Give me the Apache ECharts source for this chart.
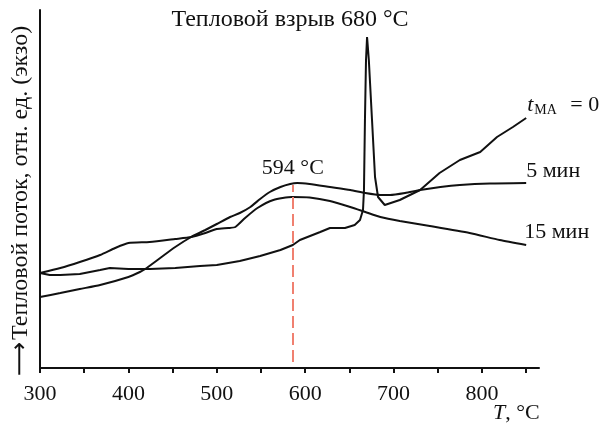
<!DOCTYPE html>
<html><head><meta charset="utf-8">
<script src="https://cdn.jsdelivr.net/npm/echarts@6/dist/echarts.min.js"></script>
<style>html,body{margin:0;padding:0;background:#fff}#c{width:608px;height:427px}</style>
</head><body><div id="c"></div>
<script>
// Temperature (°C) and heat flow (relative units)
const t0T = [300,311,323,345,368,379,400,424,453,481,500,526,549,572,586,594,617,628,645,656,662,665.4,666.5,667.6,668.8,670,672,675.6,679,682.4,690,707,730,752,775,798,817,835,850];
const t0Y = [95,93,93,94,98,100,99,99,100,102,103,107,112,118,123,128,136,140,140,143,148,158,178,248,308,331,308,248,191,171,163,168,178,195,208,216,231,241,250];
const t5T = [300,323,345,368,400,413,419,436,453,471,487,500,515,526,538,549,560,572,583,591,605,628,651,668,685,696,713,730,753,775,809,850];
const t5Y = [71,75,79,83,91,96,99,110,121,131,138,144,151,155,161,169,176,181,184,185,184,181,178,175,173,173,175,178,181,183,184.5,185];
const t15T = [300,323,345,368,385,400,424,453,471,487,500,513,521,532,546,564,585,605,628,651,668,685,707,741,786,820,850];
const t15Y = [95,100,106,113,120,125,126,129,131,135,139,140,141,150,160,168,171,170.5,167,161,156,151,147,142,135,128,123];
const xLabelValues = [300,400,500,600,700,800];
const xTickValues = [300,350,400,450,500,550,600,650,700,750,800,850];
const markT = 586, markTop = 183, markBottom = 6;
const seriesNames = ['tМА = 0','5 мин','15 мин'];

const zip = (a,b) => a.map((v,i)=>[v,b[i]]);
const FONT = 'Liberation Serif';
const lineStyle = {color:'#111', width:2};

const chart = echarts.init(document.getElementById('c'), null, {renderer:'canvas'});
chart.setOption({
  animation:false,
  backgroundColor:'#fff',
  grid:{left:40, right:69, top:10, bottom:59},
  xAxis:{
    type:'value', min:300, max:864.5,
    axisLine:{show:true, lineStyle:{color:'#111', width:2}},
    axisTick:{show:true, customValues:xTickValues, length:5, inside:false, lineStyle:{color:'#111', width:2}},
    axisLabel:{customValues:xLabelValues, fontFamily:FONT, fontSize:22, color:'#111', margin:15},
    splitLine:{show:false}
  },
  yAxis:{
    type:'value', min:0, max:358,
    axisLine:{show:true, lineStyle:{color:'#111', width:2}},
    axisTick:{show:false}, axisLabel:{show:false}, splitLine:{show:false}
  },
  series:[
    {type:'line', name:seriesNames[0], data:zip(t0T,t0Y), showSymbol:false, lineStyle:lineStyle, smooth:false,
     endLabel:{show:true, distance:0, offset:[1,-13], formatter:'{it|t}{sub|МА}{n| = 0}',
       rich:{it:{fontFamily:FONT, fontStyle:'italic', fontSize:22, color:'#111'},
             sub:{fontFamily:FONT, fontSize:14, color:'#111', padding:[10,8,0,1]},
             n:{fontFamily:FONT, fontSize:22, color:'#111'}}}},
    {type:'line', name:seriesNames[1], data:zip(t5T,t5Y), showSymbol:false, lineStyle:lineStyle, smooth:0.2,
     endLabel:{show:true, distance:0, offset:[0,-12], formatter:'5 мин', fontFamily:FONT, fontSize:22, color:'#111'}},
    {type:'line', name:seriesNames[2], data:zip(t15T,t15Y), showSymbol:false, lineStyle:lineStyle, smooth:0.2,
     endLabel:{show:true, distance:0, offset:[-2,-13], formatter:'15 мин', fontFamily:FONT, fontSize:22, color:'#111'},
     markLine:{silent:true, symbol:'none',
       lineStyle:{color:'#f08070', width:2, type:[12,5]},
       label:{show:true, position:'end', distance:6, formatter:'594 °C', fontFamily:FONT, fontSize:22, color:'#111'},
       data:[[{coord:[markT,markBottom]},{coord:[markT,markTop]}]]}}
  ],
  graphic:[
    {type:'text', x:290, y:20, style:{text:'Тепловой взрыв 680 °C', font:'24px "Liberation Serif"', fill:'#111', align:'center', verticalAlign:'middle'}},
    {type:'text', x:493, y:402, style:{text:'{it|T}, °C', rich:{it:{fontStyle:'italic', fontFamily:FONT, fontSize:22, fill:'#111'}}, font:'22px "Liberation Serif"', fill:'#111'}},
    {type:'text', x:21, y:340, rotation:Math.PI/2, style:{text:'Тепловой поток, отн. ед. (экзо)', font:'24px "Liberation Serif"', fill:'#111', align:'left', verticalAlign:'middle'}},
    {type:'text', x:21, y:376, rotation:Math.PI/2, style:{text:'⟶', font:'24px "DejaVu Sans"', fill:'#111', align:'left', verticalAlign:'middle'}}
  ]
});
</script></body></html>
